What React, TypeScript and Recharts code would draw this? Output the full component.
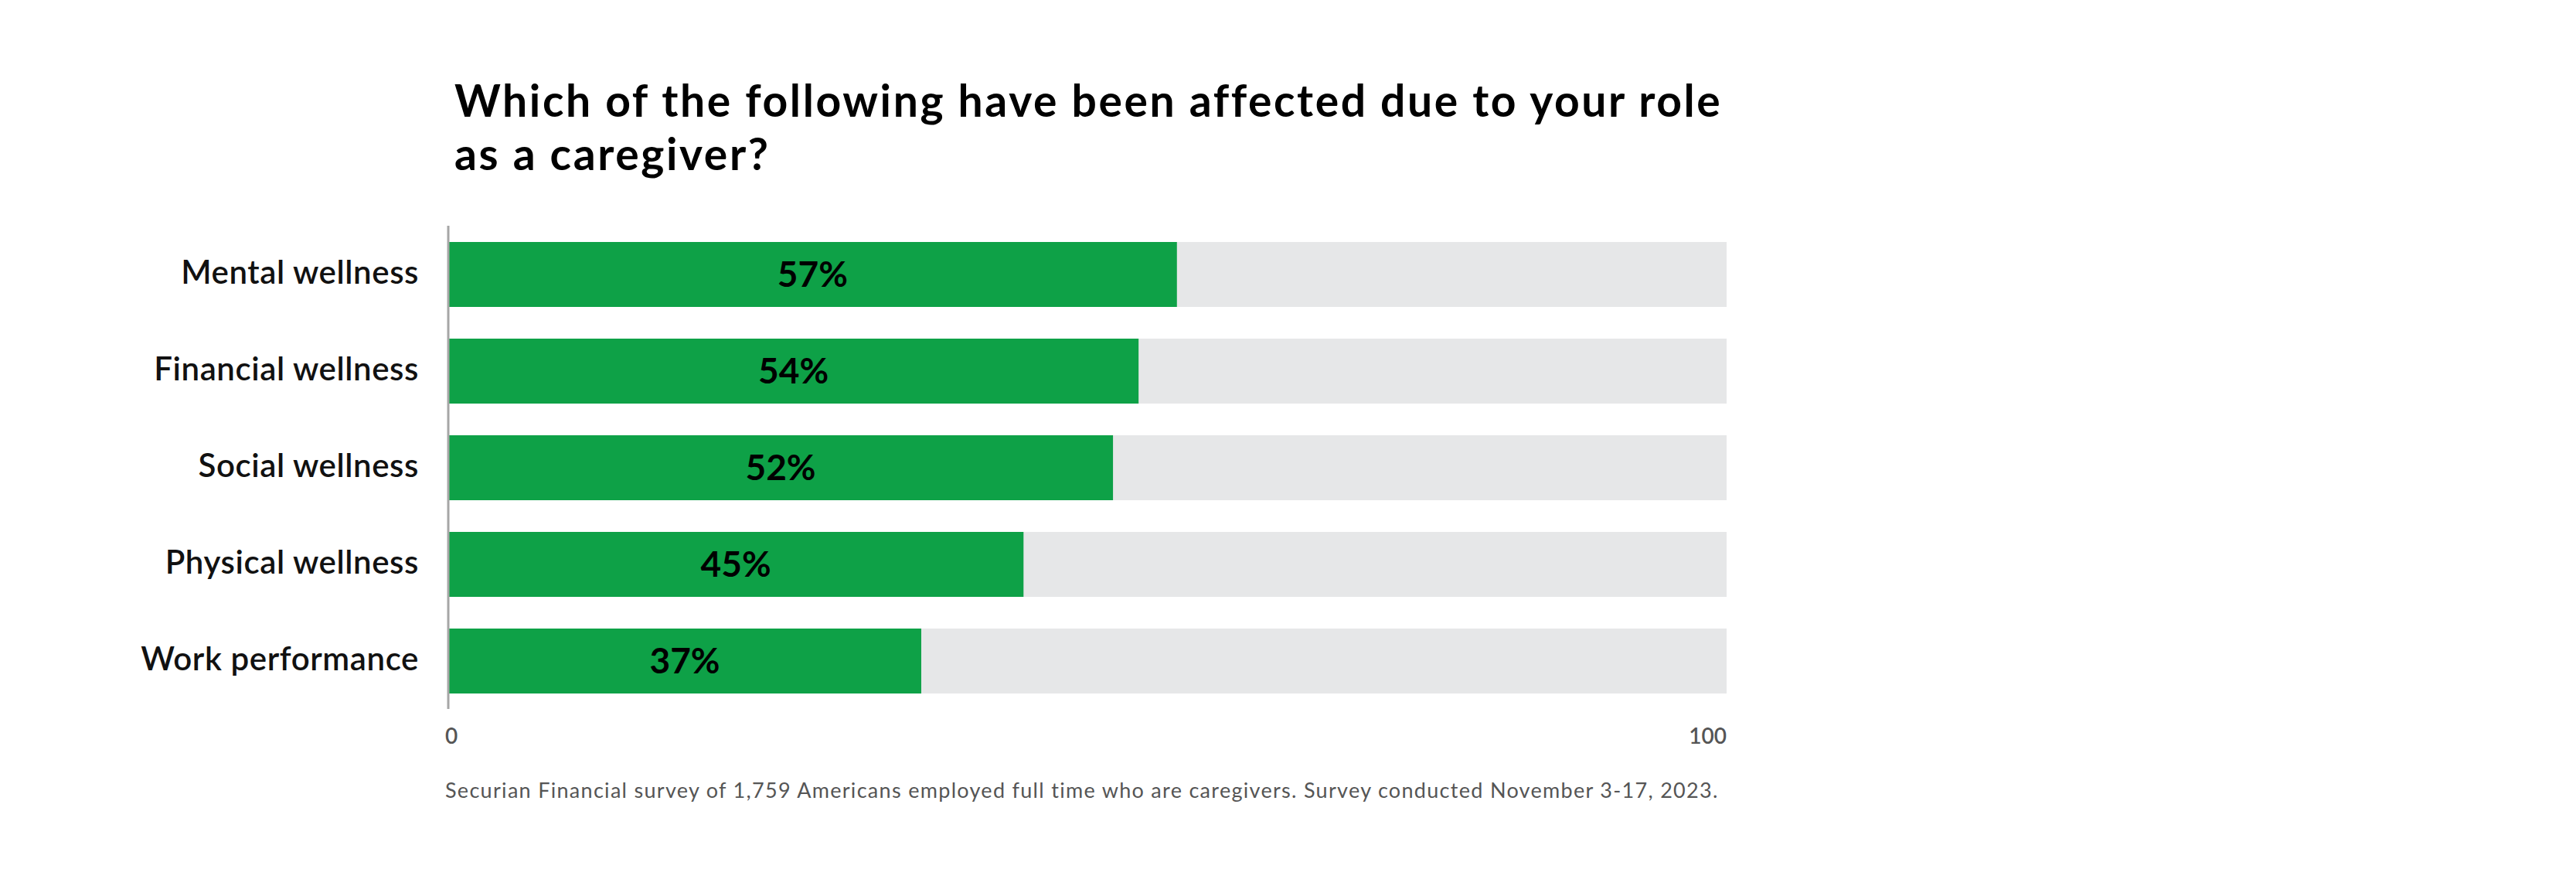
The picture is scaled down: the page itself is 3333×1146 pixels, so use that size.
import React from "react";
import { BarChart, Bar, XAxis, YAxis, LabelList } from "recharts";

const categories = [
  "Mental wellness",
  "Financial wellness",
  "Social wellness",
  "Physical wellness",
  "Work performance",
];
const values = [57, 54, 52, 45, 37];
const xTicks = [0, 100];

const titleLines = [
  "Which of the following have been affected due to your role",
  "as a caregiver?",
];
const footnote =
  "Securian Financial survey of 1,759 Americans employed full time who are caregivers. Survey conducted November 3-17, 2023.";

const data = categories.map((name, i) => ({ name, value: values[i] }));

const FONT = "Lato, 'Open Sans', sans-serif";

const CategoryTick = (props: any) => {
  const { x, y, payload } = props;
  return (
    <text
      x={x}
      y={y - 4}
      textAnchor="end"
      dominantBaseline="central"
      fontFamily={FONT}
      fontSize={42}
      fontWeight={600}
      letterSpacing={0.6}
      fill="#111"
    >
      {payload.value}
    </text>
  );
};

const ValueTick = (props: any) => {
  const { x, y, payload } = props;
  const isLast = payload.value === xTicks[xTicks.length - 1];
  return (
    <text
      x={isLast ? x : x - 4}
      y={y + 45}
      textAnchor={isLast ? "end" : "start"}
      fontFamily={FONT}
      fontSize={28}
      fontWeight={600}
      fill="#555"
    >
      {payload.value}
    </text>
  );
};

export default function App() {
  return (
    <div
      style={{
        position: "absolute",
        left: 0,
        top: 0,
        width: 3333,
        height: 1146,
        background: "#fff",
        overflow: "hidden",
      }}
    >
      <svg
        width={3333}
        height={1146}
        style={{ position: "absolute", left: 0, top: 0, pointerEvents: "none" }}
      >
        {titleLines.map((line, i) => (
          <text
            key={i}
            x={588}
            y={151 + i * 69}
            fontFamily={FONT}
            fontSize={57}
            fontWeight={700}
            letterSpacing={2.6}
            fill="#000"
          >
            {line}
          </text>
        ))}
        <text
          x={576}
          y={1032}
          fontFamily={FONT}
          fontSize={27}
          fontWeight={400}
          letterSpacing={1.3}
          fill="#555"
        >
          {footnote}
        </text>
      </svg>
      <div style={{ position: "absolute", left: 0, top: 0 }}>
        <BarChart
          width={2400}
          height={1146}
          data={data}
          layout="vertical"
          margin={{ top: 292, right: 166, bottom: 169, left: 0 }}
          barSize={84}
        >
          <XAxis
            type="number"
            domain={[0, 100]}
            ticks={xTicks}
            axisLine={false}
            tickLine={false}
            tickSize={0}
            tickMargin={0}
            height={60}
            tick={<ValueTick />}
          />
          <YAxis
            type="category"
            dataKey="name"
            width={580}
            tickLine={false}
            tickSize={0}
            tickMargin={38}
            axisLine={{ stroke: "#a6a6a6", strokeWidth: 3 }}
            tick={<CategoryTick />}
          />
          <Bar
            dataKey="value"
            fill="#0ea147"
            background={{ fill: "#e6e7e8" }}
            isAnimationActive={false}
          >
            <LabelList
              dataKey="value"
              position="center"
              formatter={(v: any) => `${v}%`}
              fill="#000"
              fontFamily={FONT}
              fontSize={46}
              fontWeight={700}
            />
          </Bar>
        </BarChart>
      </div>
    </div>
  );
}
